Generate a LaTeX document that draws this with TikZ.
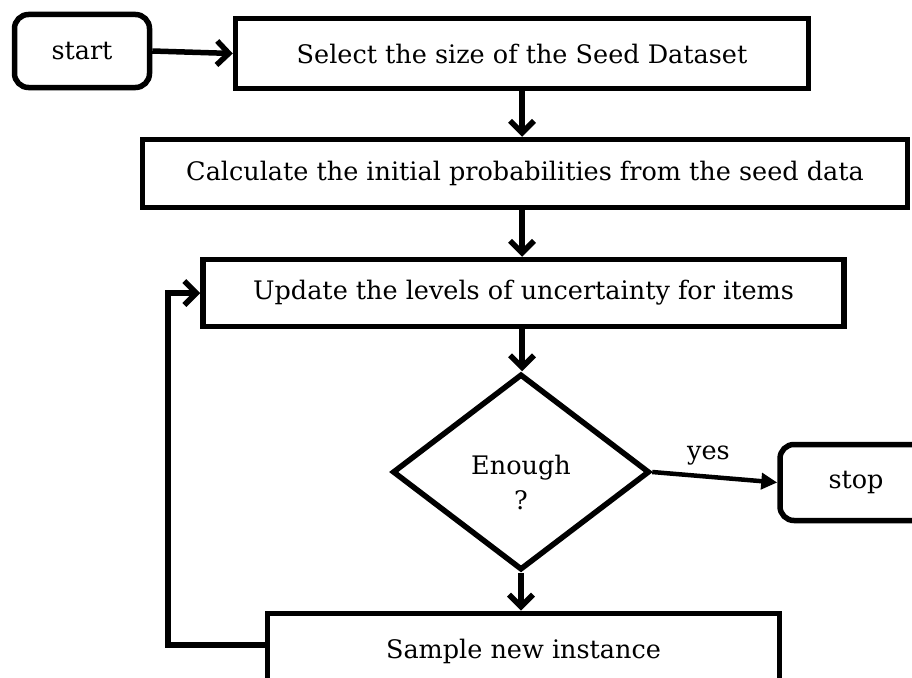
\documentclass[tikz,border=0pt]{standalone}
\usepackage{fontspec}
\setmainfont{DejaVu Serif}
\usetikzlibrary{shapes.geometric,arrows.meta}
\begin{document}
\begin{tikzpicture}[x=1pt,y=-1pt,
  every node/.style={font=\fontsize{25.5}{30}\selectfont},
  procbox/.style={draw,line width=5.5pt,rectangle,inner sep=0pt,align=center},
  termbox/.style={draw,line width=5.5pt,rectangle,rounded corners=14pt,inner sep=0pt},
  decbox/.style={draw,line width=5.5pt,diamond,inner sep=0pt,align=center},
  flow/.style={line width=5.5pt,-{Straight Barb[length=12pt,width=24pt,line width=5.5pt]}},
  flowtri/.style={line width=4.5pt,-{Triangle[length=16pt,width=16pt]}}]
\useasboundingbox (0,0) rectangle (912,677);
\clip (0,0) rectangle (912,677);
\node[termbox,minimum width=135pt,minimum height=73pt] (start) at (82,51) {start};
\node[procbox,minimum width=573pt,minimum height=70pt] (select) at (522,53.5) {Select the size of the Seed Dataset};
\node[procbox,minimum width=765pt,minimum height=68pt] (calc) at (525,173.5) {Calculate the initial probabilities from the seed data};
\node[procbox,minimum width=641pt,minimum height=67pt] (update) at (523.5,293) {Update the levels of uncertainty for items};
\node[decbox,minimum width=257pt,minimum height=196pt] (dec) at (521,472) {\rule{0pt}{40pt}Enough\\[5pt]?};
\node[termbox,minimum width=152pt,minimum height=76pt] (stop) at (856,482.5) {stop};
\node[procbox,minimum width=512pt,minimum height=90pt,anchor=north] (sample) at (523.5,610.5) {\raisebox{0pt}[0pt][0pt]{Sample new instance}};
\coordinate (loop) at (168,645);
\draw[flow] (start.east) -- (select.west);
\draw[flow] (select.south) -- (select.south |- calc.north);
\draw[flow] (calc.south -| select.south) -- (select.south |- update.north);
\draw[flow] (update.south -| select.south) -- (select.south |- dec.north);
\draw[flow] (dec.south) -- (dec.south |- sample.north);
\draw[flowtri] (dec.east) -- node[above=6pt,pos=0.45] (yes) {yes} (stop.west);
\draw[flow] (sample.west |- loop) -- (loop) |- (update.west);
\end{tikzpicture}
\end{document}
